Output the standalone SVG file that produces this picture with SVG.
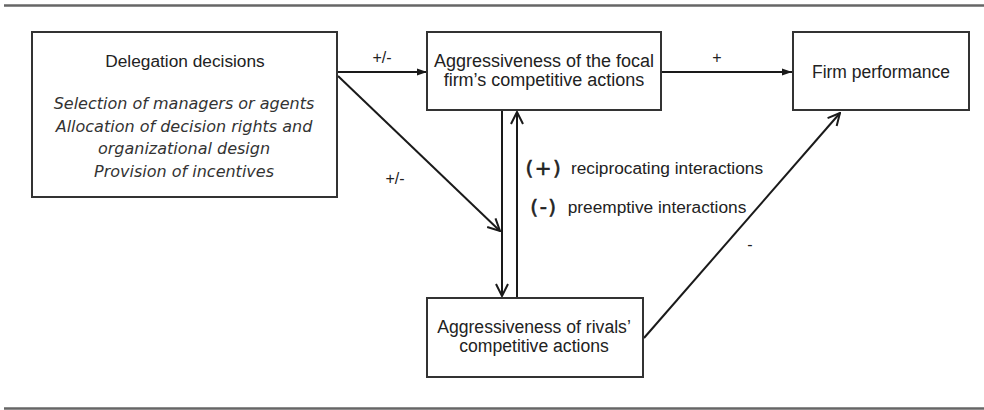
<svg xmlns="http://www.w3.org/2000/svg" width="984" height="410" viewBox="0 0 984 410">
<style>
.box{fill:#fff;stroke:#333;stroke-width:2}
.t{font-family:"Liberation Sans",Arial,sans-serif;fill:#222;text-anchor:middle}
.it{font-family:"DejaVu Sans",Verdana,sans-serif;font-style:italic;font-size:16px;fill:#333;text-anchor:middle}
.c{fill:none;stroke:#1a1a1a;stroke-width:2}
.rule{stroke:#666;stroke-width:2.5}
.sym{font-family:"DejaVu Sans",Verdana,sans-serif;font-size:20px;fill:#222;stroke:#222;stroke-width:0.6;letter-spacing:1.5px;text-anchor:middle}
</style>
<defs>
<marker id="fh" viewBox="0 0 10 10" refX="10" refY="5" markerWidth="10" markerHeight="10" markerUnits="userSpaceOnUse" orient="auto">
<path d="M0,1.5 L10,5 L0,8.5 Z" fill="#1a1a1a"/>
</marker>
<marker id="oh" viewBox="0 0 14 14" refX="13" refY="7" markerWidth="14" markerHeight="14" markerUnits="userSpaceOnUse" orient="auto">
<path d="M1,1 L13,7 L1,13" fill="none" stroke="#1a1a1a" stroke-width="2"/>
</marker>
</defs>
<line class="rule" x1="4" y1="5.5" x2="984" y2="5.5"/>
<line class="rule" x1="4" y1="408.5" x2="984" y2="408.5"/>
<g id="connectors">
<line class="c" x1="338" y1="72" x2="427" y2="72" marker-end="url(#fh)"/>
<line class="c" x1="662" y1="72" x2="792" y2="72" marker-end="url(#fh)"/>
<line class="c" x1="338" y1="76" x2="500" y2="231" marker-end="url(#oh)"/>
<line class="c" x1="502" y1="111" x2="502" y2="296" marker-end="url(#oh)"/>
<line class="c" x1="517" y1="297" x2="517" y2="112" marker-end="url(#oh)"/>
<line class="c" x1="644" y1="338" x2="840" y2="113" marker-end="url(#oh)"/>
<text class="t" x="382" y="63" font-size="16">+/-</text>
<text class="t" x="717" y="63" font-size="16">+</text>
<text class="t" x="395" y="184" font-size="16">+/-</text>
<text class="t" x="750" y="250" font-size="16">-</text>
<text class="sym" x="544" y="175">(+)</text>
<text class="t" x="667" y="174" font-size="17.3">reciprocating interactions</text>
<text class="sym" x="544" y="214">(-)</text>
<text class="t" x="657" y="213" font-size="17.3">preemptive interactions</text>
</g>
<g id="delegation">
<rect class="box" x="32" y="32" width="305" height="165"/>
<text class="t" x="185" y="67" font-size="17.3">Delegation decisions</text>
<text class="it" x="184" y="109">Selection of managers or agents</text>
<text class="it" x="184" y="132">Allocation of decision rights and</text>
<text class="it" x="184" y="154">organizational design</text>
<text class="it" x="184" y="177">Provision of incentives</text>
</g>
<g id="focal">
<rect class="box" x="427" y="32" width="234" height="78"/>
<text class="t" x="544" y="67" font-size="18">Aggressiveness of the focal</text>
<text class="t" x="544" y="86" font-size="18">firm’s competitive actions</text>
</g>
<g id="performance">
<rect class="box" x="793" y="32" width="176" height="78"/>
<text class="t" x="881" y="78" font-size="17.5">Firm performance</text>
</g>
<g id="rivals">
<rect class="box" x="427" y="298" width="216" height="79"/>
<text class="t" x="534" y="333" font-size="17.6">Aggressiveness of rivals’</text>
<text class="t" x="534" y="352" font-size="17.6">competitive actions</text>
</g>
</svg>
